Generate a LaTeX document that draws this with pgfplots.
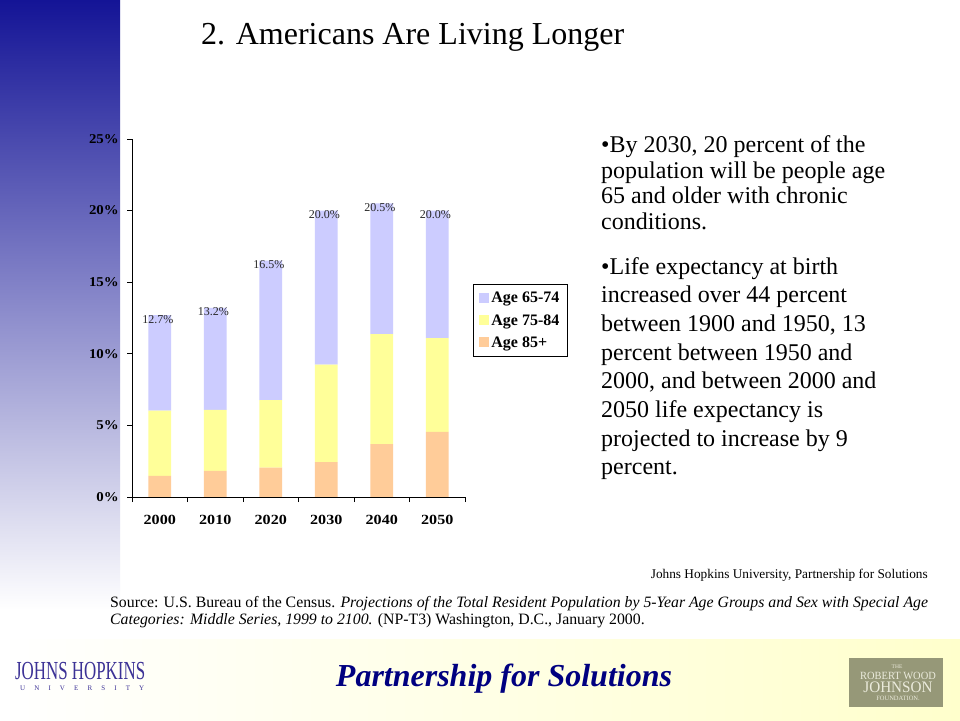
\documentclass[border=0pt]{standalone}
\usepackage{fontspec}
\setmainfont{Liberation Serif}
\usepackage{pgfplots}
\pgfplotsset{compat=1.18}
\definecolor{agea}{RGB}{204,204,255}
\definecolor{ageb}{RGB}{255,255,153}
\definecolor{agec}{RGB}{255,204,153}
\definecolor{navy}{RGB}{0,0,128}
\definecolor{jhu}{RGB}{60,50,150}
\definecolor{rwj}{RGB}{150,152,120}
\begin{document}
\begin{tikzpicture}[x=1pt,y=1pt]
\useasboundingbox (0,0) rectangle (960,720);
\fill[white] (0,0) rectangle (960,720);
% slide background
\shade[top color={rgb,255:red,20;green,20;blue,150}, bottom color=white] (0,110) rectangle (120,720);
\shade[left color=white, right color={rgb,255:red,255;green,255;blue,204}] (0,0) rectangle (960,81);

\node[anchor=base west, inner sep=0, font=\fontsize{32}{32}\selectfont] at (201,675) {2. Americans Are Living Longer};

\pgfplotsset{chartbox/.style={
    at={(132pt,223pt)}, anchor=south west,
    scale only axis, width=333pt, height=358pt,
    xmin=-0.5, xmax=5.5, ymin=0, ymax=25}}

\begin{axis}[
    chartbox,
    ybar stacked, bar width=0.41,
    axis x line=bottom, axis y line=left,
    axis line style={-, black, line width=0.8pt},
    tick align=outside, major tick length=5pt, minor tick length=5pt,
    xtick={0,...,5}, xticklabels={2000,2010,2020,2030,2040,2050},
    major x tick style={draw=none},
    minor xtick={-0.5,0.5,...,5.5},
    ytick={0,5,...,25}, yticklabels={0\%,5\%,10\%,15\%,20\%,25\%},
    tick style={black, line width=0.8pt},
    xticklabel style={font=\bfseries\fontsize{14}{14}\selectfont, xscale=1.15, yshift=-10pt},
    yticklabel style={font=\bfseries\fontsize{13.5}{13.5}\selectfont, xscale=1.1, xshift=-4pt},
    legend style={at={(1.024,0.595)}, anchor=north west, draw=black, line width=0.8pt,
        font=\bfseries\fontsize{16}{16}\selectfont, row sep=6pt, inner xsep=6pt, inner ysep=6pt},
    legend cell align=left, reverse legend,
    legend image code/.code={\fill[#1,draw=none] (0pt,-4.5pt) rectangle (10pt,5.5pt);},
]
\addplot+[fill=agec, draw=none] coordinates {(0,1.47) (1,1.82) (2,2.05) (3,2.44) (4,3.70) (5,4.54)};
\addplot+[fill=ageb, draw=none] coordinates {(0,4.56) (1,4.26) (2,4.72) (3,6.80) (4,7.68) (5,6.56)};
\addplot+[fill=agea, draw=none] coordinates {(0,6.67) (1,7.12) (2,9.73) (3,10.76) (4,9.12) (5,8.90)};
\legend{Age 85+, Age 75-84, Age 65-74}
\end{axis}

% totals printed above the bars
\begin{axis}[chartbox, hide axis]
\addplot[draw=none, mark=none, point meta=explicit symbolic, nodes near coords,
    nodes near coords style={font=\fontsize{12}{12}\selectfont, anchor=center, yshift=-4pt, xshift=-2pt, color={rgb,255:red,40;green,40;blue,40}}]
    coordinates {(0,12.7) [12.7\%] (1,13.2) [13.2\%] (2,16.5) [16.5\%] (3,20.0) [20.0\%] (4,20.5) [20.5\%] (5,20.0) [20.0\%]};
\end{axis}

% bullets (base anchor = last line)
\node[anchor=base west, inner sep=0, align=left, font=\fontsize{24}{25.5}\selectfont] at (601,490.5)
  {•By 2030, 20 percent of the\\population will be people age\\65 and older with chronic\\conditions.};
\node[anchor=base west, inner sep=0, align=left, font=\fontsize{24}{28.7}\selectfont] at (601,245)
  {•Life expectancy at birth\\increased over 44 percent\\between 1900 and 1950, 13\\percent between 1950 and\\2000, and between 2000 and\\2050 life expectancy is\\projected to increase by 9\\percent.};

\node[anchor=base east, inner sep=0, font=\fontsize{13.3}{13.3}\selectfont] at (928,142) {Johns Hopkins University, Partnership for Solutions};
\node[anchor=base west, inner sep=0, align=left, font=\fontsize{15.8}{17}\selectfont] at (110,96)
  {Source: U.S. Bureau of the Census. \textit{Projections of the Total Resident Population by 5-Year Age Groups and Sex with Special Age}\\\textit{Categories: Middle Series, 1999 to 2100.} (NP-T3) Washington, D.C., January 2000.};

% footer
\node[anchor=base, inner sep=0, text=navy, font=\bfseries\itshape\fontsize{32}{32}\selectfont] at (504,34) {Partnership for Solutions};
\node[anchor=base west, inner sep=0, text=jhu, xscale=0.65, font=\fontsize{26}{26}\selectfont] at (15,41) {JOHNS HOPKINS};
\node[anchor=base west, inner sep=0, text=jhu, font=\fontsize{7}{7}\selectfont] at (20,30) {\makebox[124pt][s]{U\hfil N\hfil I\hfil V\hfil E\hfil R\hfil S\hfil I\hfil T\hfil Y}};
\fill[rwj] (849,13) rectangle (943,62);
\node[inner sep=0, text={rgb,255:red,235;green,235;blue,220}, font=\fontsize{5.5}{5.5}\selectfont] at (897,53) {THE};
\node[inner sep=0, text={rgb,255:red,235;green,235;blue,220}, font=\fontsize{11}{11}\selectfont, xscale=0.95] at (898,44) {ROBERT WOOD};
\node[inner sep=0, text={rgb,255:red,235;green,235;blue,220}, font=\fontsize{16}{16}\selectfont, xscale=0.95] at (898,32.5) {JOHNSON};
\node[inner sep=0, text={rgb,255:red,235;green,235;blue,220}, font=\fontsize{6.5}{6.5}\selectfont] at (898,22) {FOUNDATION.};
\end{tikzpicture}
\end{document}
